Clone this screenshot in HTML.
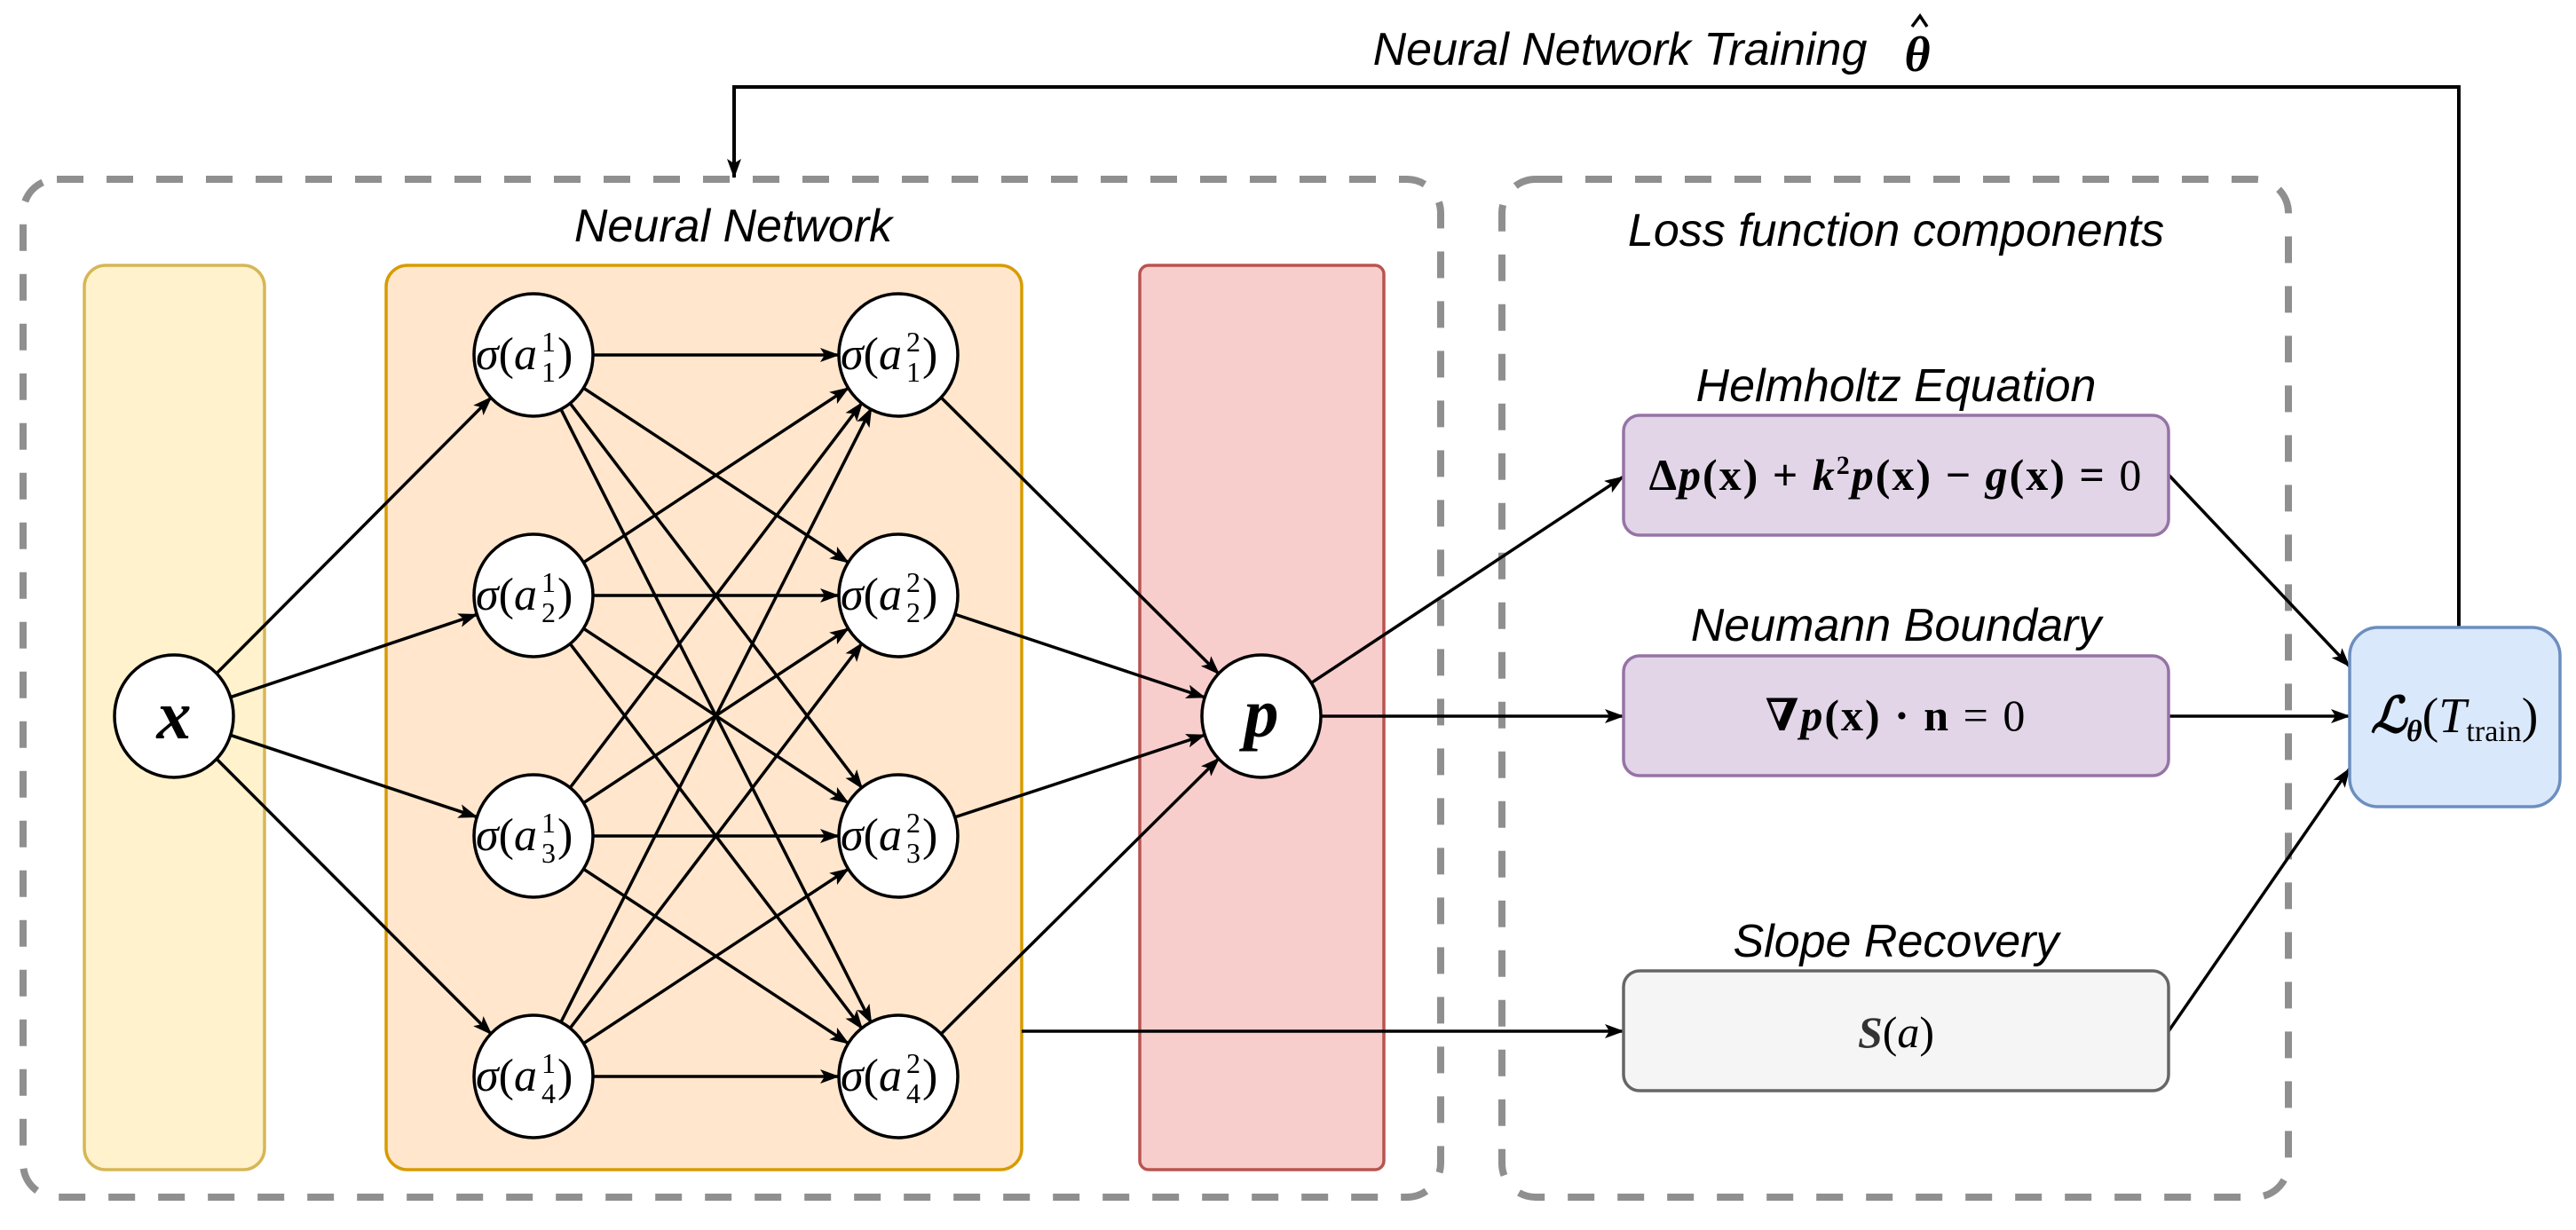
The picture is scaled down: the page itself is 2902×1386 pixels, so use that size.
<!DOCTYPE html>
<html><head><meta charset="utf-8"><style>
html,body{margin:0;padding:0;background:#fff;}
svg{display:block;}
.lb{font-family:"Liberation Sans",sans-serif;font-style:italic;font-size:52px;fill:#000;}
.m{font-family:"Liberation Serif","DejaVu Serif",serif;fill:#000;}
</style></head><body>
<svg width="2902" height="1386" viewBox="0 0 2902 1386" xmlns="http://www.w3.org/2000/svg">
<defs>
<marker id="a" markerWidth="22" markerHeight="16" refX="21" refY="8" orient="auto" markerUnits="userSpaceOnUse">
<path d="M0,0 L22,8 L0,16 L5,8 Z" fill="#000"/>
</marker>
</defs>
<rect x="26" y="202" width="1597" height="1147" rx="38" fill="none" stroke="#8f8f8f" stroke-width="8" stroke-dasharray="30 26"/>
<rect x="1692" y="202" width="886" height="1147" rx="38" fill="none" stroke="#8f8f8f" stroke-width="8" stroke-dasharray="30 26"/>
<rect x="95" y="299" width="203" height="1019" rx="24" fill="#fff2cc" stroke="#d6b656" stroke-width="3.5"/>
<rect x="435" y="299" width="716" height="1019" rx="24" fill="#ffe6cc" stroke="#d79b00" stroke-width="3.5"/>
<rect x="1284" y="299" width="275" height="1019" rx="10" fill="#f8cecc" stroke="#b85450" stroke-width="3.5"/>
<text class="lb" x="826" y="272" text-anchor="middle">Neural Network</text>
<text class="lb" x="2136" y="277" text-anchor="middle">Loss function components</text>
<text class="lb" x="2136" y="452" text-anchor="middle">Helmholtz Equation</text>
<text class="lb" x="2136" y="722" text-anchor="middle">Neumann Boundary</text>
<text class="lb" x="2136" y="1078" text-anchor="middle">Slope Recovery</text>
<text class="lb" x="1825" y="73" text-anchor="middle">Neural Network Training</text>
<text class="m" x="2160" y="80" font-size="56" font-style="italic" font-weight="bold" text-anchor="middle">θ</text>
<path d="M2154,30 L2163,18 L2171,30" fill="none" stroke="#000" stroke-width="3.5"/>
<g stroke="#000" stroke-width="4" fill="none">
<polyline points="2770,707 2770,98 827,98 827,200" marker-end="url(#a)"/>
</g>
<g stroke="#000" stroke-width="3.5" fill="none" marker-end="url(#a)">
<line x1="243.3" y1="759.5" x2="553.7" y2="447.5"/>
<line x1="259.5" y1="785.7" x2="537.5" y2="692.3"/>
<line x1="259.5" y1="828.3" x2="537.5" y2="920.7"/>
<line x1="243.3" y1="854.5" x2="553.7" y2="1165.5"/>
<line x1="668" y1="400" x2="945" y2="400"/>
<line x1="656.9" y1="436.9" x2="956.1" y2="634.1"/>
<line x1="641.5" y1="453.4" x2="971.5" y2="888.6"/>
<line x1="631.2" y1="459.8" x2="981.8" y2="1153.2"/>
<line x1="656.9" y1="634.1" x2="956.1" y2="436.9"/>
<line x1="668" y1="671" x2="945" y2="671"/>
<line x1="656.9" y1="707.9" x2="956.1" y2="905.1"/>
<line x1="641.5" y1="724.4" x2="971.5" y2="1159.6"/>
<line x1="641.5" y1="888.6" x2="971.5" y2="453.4"/>
<line x1="656.9" y1="905.1" x2="956.1" y2="707.9"/>
<line x1="668" y1="942" x2="945" y2="942"/>
<line x1="656.9" y1="978.9" x2="956.1" y2="1176.1"/>
<line x1="631.2" y1="1153.2" x2="981.8" y2="459.8"/>
<line x1="641.5" y1="1159.6" x2="971.5" y2="724.4"/>
<line x1="656.9" y1="1176.1" x2="956.1" y2="978.9"/>
<line x1="668" y1="1213" x2="945" y2="1213"/>
<line x1="1059.5" y1="447.3" x2="1373.5" y2="759.7"/>
<line x1="1075.6" y1="692.1" x2="1357.4" y2="785.9"/>
<line x1="1075.6" y1="920.9" x2="1357.4" y2="828.1"/>
<line x1="1059.5" y1="1165.7" x2="1373.5" y2="854.3"/>
<line x1="1476.8" y1="769.8" x2="1829" y2="537"/>
<line x1="1488" y1="807" x2="1829" y2="807"/>
<line x1="1151" y1="1162" x2="1829" y2="1162"/>
<line x1="2443" y1="535" x2="2647" y2="751"/>
<line x1="2443" y1="807" x2="2647" y2="807"/>
<line x1="2443" y1="1162" x2="2647" y2="866"/>
</g>
<rect x="1829" y="468" width="614" height="135" rx="18" fill="#e1d5e7" stroke="#9673a6" stroke-width="3.5"/>
<rect x="1829" y="739" width="614" height="135" rx="18" fill="#e1d5e7" stroke="#9673a6" stroke-width="3.5"/>
<rect x="1829" y="1094" width="614" height="135" rx="18" fill="#f5f5f5" stroke="#666666" stroke-width="3.5"/>
<rect x="2647" y="707" width="237" height="202" rx="32" fill="#dae8fc" stroke="#6c8ebf" stroke-width="3.5"/>
<text class="m" x="2136" y="552" font-size="50" font-weight="bold" text-anchor="middle" letter-spacing="2">Δ<tspan font-style="italic">p</tspan>(x) + <tspan font-style="italic">k</tspan><tspan font-size="30" dy="-18">2</tspan><tspan dy="18" font-style="italic">p</tspan>(x) − <tspan font-style="italic">g</tspan>(x) = <tspan font-weight="normal">0</tspan></text>
<text class="m" x="2136" y="823" font-size="50" font-weight="bold" text-anchor="middle" letter-spacing="2">∇<tspan font-style="italic">p</tspan>(x) · n <tspan font-weight="normal">= 0</tspan></text>
<text class="m" x="2136" y="1180" font-size="50" fill="#333" text-anchor="middle"><tspan font-style="italic" font-weight="bold" fill="#333">S</tspan>(<tspan font-style="italic">a</tspan>)</text>
<text class="m" x="2765" y="825" font-size="56" text-anchor="middle"><tspan font-style="italic" font-weight="bold">ℒ</tspan><tspan font-size="34" dy="10" font-style="italic" font-weight="bold">θ</tspan><tspan dy="-10">(</tspan><tspan font-style="italic">T</tspan><tspan font-size="34" dy="10">train</tspan><tspan dy="-10">)</tspan></text>
<g fill="#fff" stroke="#000" stroke-width="3.5">
<ellipse cx="196" cy="807" rx="67" ry="69"/>
<ellipse cx="1421" cy="807" rx="67" ry="69"/>
<ellipse cx="601" cy="400" rx="67" ry="69"/><ellipse cx="601" cy="671" rx="67" ry="69"/><ellipse cx="601" cy="942" rx="67" ry="69"/><ellipse cx="601" cy="1213" rx="67" ry="69"/>
<ellipse cx="1012" cy="400" rx="67" ry="69"/><ellipse cx="1012" cy="671" rx="67" ry="69"/><ellipse cx="1012" cy="942" rx="67" ry="69"/><ellipse cx="1012" cy="1213" rx="67" ry="69"/>
</g>
<text class="m" x="196" y="832" font-size="78" font-style="italic" font-weight="bold" text-anchor="middle">x</text>
<text class="m" x="1421" y="830" font-size="78" font-style="italic" font-weight="bold" text-anchor="middle">p</text>
<g class="m" font-size="52">
<text x="536" y="416"><tspan font-style="italic">σ</tspan>(<tspan font-style="italic">a</tspan></text><text x="610" y="396" font-size="32">1</text><text x="610" y="430" font-size="32">1</text><text x="628" y="416">)</text>
<text x="536" y="687"><tspan font-style="italic">σ</tspan>(<tspan font-style="italic">a</tspan></text><text x="610" y="667" font-size="32">1</text><text x="610" y="701" font-size="32">2</text><text x="628" y="687">)</text>
<text x="536" y="958"><tspan font-style="italic">σ</tspan>(<tspan font-style="italic">a</tspan></text><text x="610" y="938" font-size="32">1</text><text x="610" y="972" font-size="32">3</text><text x="628" y="958">)</text>
<text x="536" y="1229"><tspan font-style="italic">σ</tspan>(<tspan font-style="italic">a</tspan></text><text x="610" y="1209" font-size="32">1</text><text x="610" y="1243" font-size="32">4</text><text x="628" y="1229">)</text>
<text x="947" y="416"><tspan font-style="italic">σ</tspan>(<tspan font-style="italic">a</tspan></text><text x="1021" y="396" font-size="32">2</text><text x="1021" y="430" font-size="32">1</text><text x="1039" y="416">)</text>
<text x="947" y="687"><tspan font-style="italic">σ</tspan>(<tspan font-style="italic">a</tspan></text><text x="1021" y="667" font-size="32">2</text><text x="1021" y="701" font-size="32">2</text><text x="1039" y="687">)</text>
<text x="947" y="958"><tspan font-style="italic">σ</tspan>(<tspan font-style="italic">a</tspan></text><text x="1021" y="938" font-size="32">2</text><text x="1021" y="972" font-size="32">3</text><text x="1039" y="958">)</text>
<text x="947" y="1229"><tspan font-style="italic">σ</tspan>(<tspan font-style="italic">a</tspan></text><text x="1021" y="1209" font-size="32">2</text><text x="1021" y="1243" font-size="32">4</text><text x="1039" y="1229">)</text>
</g>
</svg>
</body></html>
